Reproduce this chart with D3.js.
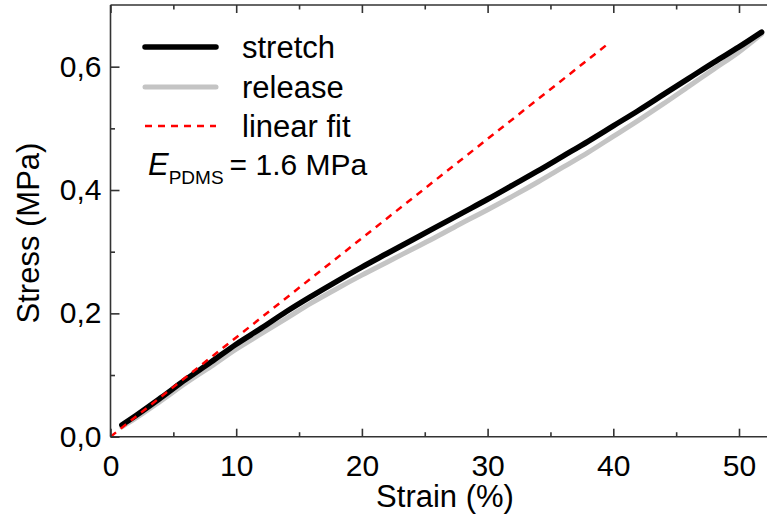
<!DOCTYPE html>
<html><head><meta charset="utf-8">
<script src="https://cdn.jsdelivr.net/npm/d3@7"></script>
<style>html,body{margin:0;padding:0;background:#fff;}svg{display:block;font-family:"Liberation Sans",Arial,sans-serif;}</style>
</head><body>
<svg id="c" width="767" height="519"></svg>
<script>
// Data (strain %, stress MPa)
const stretchStrain = [0.9,2,4,6,8,10,12,14,16,18,20,22,24,26,28,30,32,34,36,38,40,42,44,46,48,50,51.8];
const stretchStress = [0.019,0.034,0.063,0.093,0.121,0.150,0.176,0.203,0.228,0.252,0.275,0.297,0.319,0.341,0.363,0.385,0.408,0.431,0.455,0.479,0.504,0.529,0.555,0.581,0.607,0.632,0.656];
const releaseStrain = [0.9,2,4,6,8,10,12,14,16,18,20,22,24,26,28,30,32,34,36,38,40,42,44,46,48,50,51.8];
const releaseStress = [0.016,0.030,0.058,0.087,0.114,0.142,0.167,0.192,0.217,0.240,0.262,0.283,0.304,0.325,0.347,0.368,0.390,0.413,0.437,0.461,0.487,0.513,0.540,0.568,0.596,0.624,0.653];
const fitStrain = [0, 39.7];
const fitStress = [0, 0.639];
const xTicks = [0,10,20,30,40,50];
const xMinor = [5,15,25,35,45];
const yTicks = [0,0.2,0.4,0.6];
const yTickLabels = ["0,0","0,2","0,4","0,6"];
const yMinor = [0.1,0.3,0.5];
const legendLabels = ["stretch","release","linear fit"];

const svg = d3.select("#c");
const x = d3.scaleLinear().domain([0,55]).range([110.5, 110.5+55*12.57]);
const y = d3.scaleLinear().domain([0,0.7]).range([436.7,5]);
const W = 767;
const axisColor = "#333";
const FONT = "Liberation Sans, Arial, sans-serif";

svg.append("defs").append("clipPath").attr("id","clip")
  .append("rect").attr("x",100).attr("y",0).attr("width",W-100).attr("height",445);

const line = d3.line().x(d=>x(d[0])).y(d=>y(d[1])).curve(d3.curveMonotoneX);
const g = svg.append("g").attr("clip-path","url(#clip)");
g.append("path").datum(d3.zip(releaseStrain,releaseStress)).attr("d",line)
  .attr("fill","none").attr("stroke","#c4c4c4").attr("stroke-width",5).attr("stroke-linecap","round");
g.append("path").datum(d3.zip(stretchStrain,stretchStress)).attr("d",line)
  .attr("fill","none").attr("stroke","#000").attr("stroke-width",5.5).attr("stroke-linecap","round");
g.append("path").datum(d3.zip(fitStrain,fitStress)).attr("d",d3.line().x(d=>x(d[0])).y(d=>y(d[1])))
  .attr("fill","none").attr("stroke","#ff0000").attr("stroke-width",2.5).attr("stroke-dasharray","7,6");

// Axes frame
const x0 = x(0), yb = y(0), yt = y(0.7);
svg.append("line").attr("x1",x0).attr("x2",x0).attr("y1",yt).attr("y2",yb).attr("stroke",axisColor).attr("stroke-width",1.6);
svg.append("line").attr("x1",x0).attr("x2",W).attr("y1",yb).attr("y2",yb).attr("stroke",axisColor).attr("stroke-width",1.6);
svg.append("line").attr("x1",x0).attr("x2",W).attr("y1",yt).attr("y2",yt).attr("stroke",axisColor).attr("stroke-width",1.6);

// bottom axis ticks (inward)
const bottom = d3.axisBottom(x).tickValues(xTicks).tickSize(-8).tickPadding(11).tickFormat(d3.format("d"));
const ga = svg.append("g").attr("transform",`translate(0,${yb})`).call(bottom);
ga.select(".domain").remove();
ga.selectAll("line").attr("stroke",axisColor).attr("stroke-width",1.6);
ga.selectAll("text").attr("font-size",30).attr("fill","#000").attr("font-family",FONT).attr("dy","0.95em");
const gam = svg.append("g").attr("transform",`translate(0,${yb})`).call(d3.axisBottom(x).tickValues(xMinor).tickSize(-4.5).tickFormat(""));
gam.select(".domain").remove(); gam.selectAll("line").attr("stroke",axisColor).attr("stroke-width",1.6);

// top ticks (inward)
const gt = svg.append("g").attr("transform",`translate(0,${yt})`).call(d3.axisTop(x).tickValues(xTicks).tickSize(-8).tickFormat(""));
gt.select(".domain").remove(); gt.selectAll("line").attr("stroke",axisColor).attr("stroke-width",1.6);
const gtm = svg.append("g").attr("transform",`translate(0,${yt})`).call(d3.axisTop(x).tickValues(xMinor).tickSize(-4.5).tickFormat(""));
gtm.select(".domain").remove(); gtm.selectAll("line").attr("stroke",axisColor).attr("stroke-width",1.6);

// left axis
const left = d3.axisLeft(y).tickValues(yTicks).tickSize(-9).tickPadding(9).tickFormat((d,i)=>yTickLabels[i]);
const gl = svg.append("g").attr("transform",`translate(${x0},0)`).call(left);
gl.select(".domain").remove();
gl.selectAll("line").attr("stroke",axisColor).attr("stroke-width",1.6);
gl.selectAll("text").attr("font-size",30).attr("fill","#000").attr("font-family",FONT);
const glm = svg.append("g").attr("transform",`translate(${x0},0)`).call(d3.axisLeft(y).tickValues(yMinor).tickSize(-4.5).tickFormat(""));
glm.select(".domain").remove(); glm.selectAll("line").attr("stroke",axisColor).attr("stroke-width",1.6);

// axis labels
svg.append("text").attr("x",445).attr("y",507).attr("text-anchor","middle").attr("font-size",31).text("Strain (%)");
svg.append("text").attr("transform","translate(39,233) rotate(-90)").attr("text-anchor","middle").attr("font-size",31).text("Stress (MPa)");

// legend
const legY = [47,87,126];
const styles = [
  {stroke:"#000",w:5.5,dash:null},
  {stroke:"#c4c4c4",w:5,dash:null},
  {stroke:"#ff0000",w:2.5,dash:"7,6"}
];
legendLabels.forEach((lab,i)=>{
  svg.append("line").attr("x1",145).attr("x2",216).attr("y1",legY[i]).attr("y2",legY[i])
    .attr("stroke",styles[i].stroke).attr("stroke-width",styles[i].w)
    .attr("stroke-linecap",styles[i].dash?"butt":"round")
    .attr("stroke-dasharray",styles[i].dash);
  svg.append("text").attr("x",242).attr("y",legY[i]+11).attr("font-size",31).text(lab);
});
const t = svg.append("text").attr("x",148).attr("y",175).attr("font-size",31);
t.append("tspan").attr("font-style","italic").text("E");
t.append("tspan").attr("font-size",19).attr("dy",9).attr("dx",0).text("PDMS");
t.append("tspan").attr("font-size",30).attr("dy",-9).attr("dx",6).text("= 1.6 MPa");
</script>
</body></html>
